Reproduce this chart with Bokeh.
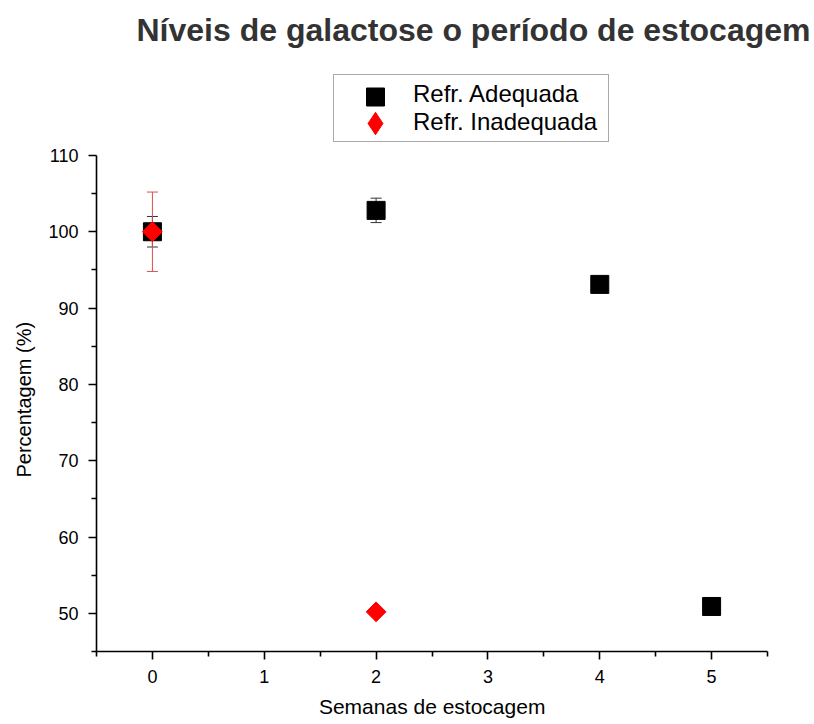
import numpy as np
from bokeh.plotting import figure
from bokeh.models import (ColumnDataSource, Whisker, TeeHead, Legend, LegendItem,
                          FixedTicker, Range1d, Title, Label)
from bokeh.embed import file_html
from bokeh.resources import INLINE

# ---- data ----
weeks_adequada = [0, 2, 4, 5]
pct_adequada = [100.0, 102.8, 93.1, 50.9]
err_adequada = [2.0, 1.6, 0.0, 0.0]

weeks_inadequada = [0, 2]
pct_inadequada = [100.0, 50.2]
err_inadequada = [5.2, 0.0]

x_ticks = [0, 1, 2, 3, 4, 5]
y_ticks = [50, 60, 70, 80, 90, 100, 110]

title_text = "Níveis de galactose o período de estocagem"
x_label = "Semanas de estocagem"
y_label = "Percentagem (%)"
labels = ["Refr. Adequada", "Refr. Inadequada"]

FONT = "Liberation Sans"

# frame extends to the top and right canvas edges (hosting title and legend);
# the axis lines themselves are bounded to the data area
p = figure(width=814, height=724, x_range=Range1d(-0.5, 5.92), y_range=Range1d(45, 130.3),
           output_backend="svg", toolbar_location=None,
           min_border_left=96, min_border_right=0, min_border_top=0, min_border_bottom=73)
p.title.visible = False
p.outline_line_color = None
p.xgrid.visible = False
p.ygrid.visible = False
p.background_fill_color = "white"
p.border_fill_color = "white"

x_minor = [-0.5] + [t + 0.5 for t in x_ticks]
y_minor = [45] + [t + 5 for t in y_ticks[:-1]]
p.xaxis.ticker = FixedTicker(ticks=x_ticks, minor_ticks=x_minor)
p.yaxis.ticker = FixedTicker(ticks=y_ticks, minor_ticks=y_minor)
p.xaxis.bounds = (-0.5, 5.5)
p.yaxis.bounds = (45, 110)

for ax in (p.xaxis, p.yaxis):
    ax.axis_line_width = 1.6
    ax.axis_line_color = "black"
    ax.major_tick_line_width = 1.6
    ax.minor_tick_line_width = 1.6
    ax.major_tick_line_color = "black"
    ax.minor_tick_line_color = "black"
    ax.major_tick_in = 0
    ax.major_tick_out = 8
    ax.minor_tick_in = 0
    ax.minor_tick_out = 5
    ax.major_label_text_font = FONT
    ax.major_label_text_font_size = "18px"
    ax.major_label_text_color = "black"
    ax.major_label_standoff = 10
    ax.axis_label_text_font = FONT
    ax.axis_label_text_font_style = "normal"
    ax.axis_label_text_color = "black"

# trailing no-break spaces keep the label centred under the bounded axis line
p.xaxis.axis_label = x_label + "\u00a0" * 8
p.xaxis.axis_label_text_font_size = "21px"
p.xaxis.axis_label_standoff = 9

# y-axis label as a side title so it can be centred on the bounded axis
y_title = Title(text=y_label, align="left", offset=174, standoff=21,
                text_font=FONT, text_font_size="20px", text_font_style="normal",
                text_color="black")
p.add_layout(y_title, "left")

# ---- error bars ----
ia = [i for i, e in enumerate(err_adequada) if e > 0]
src_err_a = ColumnDataSource(dict(
    x=[weeks_adequada[i] for i in ia],
    upper=[pct_adequada[i] + err_adequada[i] for i in ia],
    lower=[pct_adequada[i] - err_adequada[i] for i in ia]))
ii = [i for i, e in enumerate(err_inadequada) if e > 0]
src_err_i = ColumnDataSource(dict(
    x=[weeks_inadequada[i] for i in ii],
    upper=[pct_inadequada[i] + err_inadequada[i] for i in ii],
    lower=[pct_inadequada[i] - err_inadequada[i] for i in ii]))

wa = Whisker(source=src_err_a, base="x", upper="upper", lower="lower",
             line_color="#333333", line_width=1,
             upper_head=TeeHead(size=11, line_color="#333333", line_width=1),
             lower_head=TeeHead(size=11, line_color="#333333", line_width=1))
wi = Whisker(source=src_err_i, base="x", upper="upper", lower="lower",
             line_color="#d65050", line_width=1,
             upper_head=TeeHead(size=11, line_color="#d65050", line_width=1),
             lower_head=TeeHead(size=11, line_color="#d65050", line_width=1))
p.add_layout(wa)
p.add_layout(wi)

# ---- markers ----
src_a = ColumnDataSource(dict(x=weeks_adequada, y=pct_adequada))
src_i = ColumnDataSource(dict(x=weeks_inadequada, y=pct_inadequada))
r_a = p.scatter("x", "y", source=src_a, marker="square", size=18,
                fill_color="black", line_color="black")
r_i = p.scatter("x", "y", source=src_i, marker="square", angle=np.pi / 4, size=14,
                fill_color="#ff0000", line_color="#ff0000")
# zero-size renderers used only to draw legend keys / text
r_blank = p.scatter("x", "y", source=src_a, size=0, fill_alpha=0, line_alpha=0)
r_dkey = p.scatter("x", "y", source=src_i, marker="diamond", size=0,
                   fill_color="#ff0000", line_color="#ff0000")

common = dict(label_text_font=FONT, label_text_font_size="24px", label_text_color="black")

leg_box = Legend(items=[LegendItem(label=labels[0], renderers=[r_blank]),
                        LegendItem(label=labels[1], renderers=[r_blank])],
                 location=(237, 509), glyph_width=74, glyph_height=27, label_height=27,
                 spacing=0, padding=5, label_standoff=0, label_width=190,
                 border_line_color="#555555", border_line_width=1,
                 background_fill_color="white", background_fill_alpha=1.0, **common)
leg_sq = Legend(items=[LegendItem(label="", renderers=[r_a])],
                location=(242, 532), glyph_width=74, glyph_height=45, padding=0,
                spacing=0, label_standoff=0, label_width=0,
                border_line_color=None, background_fill_alpha=0, **common)
leg_di = Legend(items=[LegendItem(label="", renderers=[r_dkey])],
                location=(242, 500), glyph_width=74, glyph_height=56, padding=0,
                spacing=0, label_standoff=0, label_width=0,
                border_line_color=None, background_fill_alpha=0, **common)
p.add_layout(leg_box)
p.add_layout(leg_sq)
p.add_layout(leg_di)

title = Label(x=40, y=622, x_units="screen", y_units="screen", text=title_text,
              text_font=FONT, text_font_style="bold", text_font_size="32px",
              text_color="#333333", text_align="left", text_baseline="alphabetic")
p.add_layout(title)

open("out.html", "w").write(file_html(p, INLINE))
